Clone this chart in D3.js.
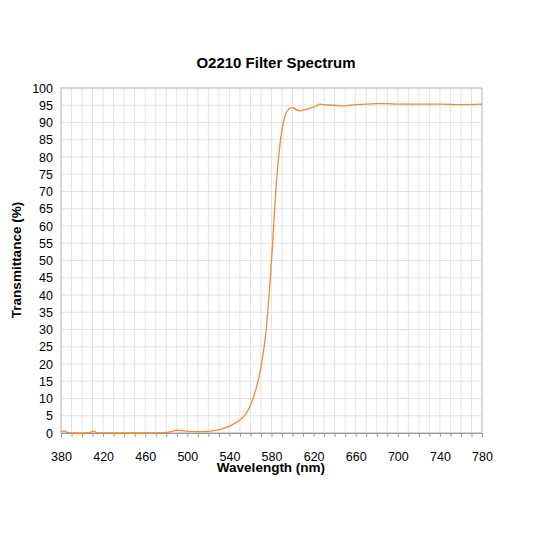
<!DOCTYPE html>
<html><head><meta charset="utf-8">
<script src="https://cdn.jsdelivr.net/npm/d3@7"></script>
<style>body{margin:0;background:#fff}text{font-family:Arial,"Liberation Sans",sans-serif}</style>
</head><body>
<svg id="c" width="533" height="533"></svg>
<script>
const wavelength = [380,383,386,390,400,408,411,414,420,440,460,478,485,490,495,500,510,520,525,530,535,540,545,550,555,560,565,570,575,580,585,590,593,597,600,603,607,612,617,622,626,632,640,650,660,670,680,690,700,720,740,760,780]
const transmittance = [0.4,0.6,0.2,0,0,0.2,0.6,0.1,0,0,0,0.1,0.4,0.8,0.7,0.5,0.4,0.5,0.7,1,1.4,2,2.8,3.8,5.3,8,12.5,19,30,50,74,88,92,94,94.3,93.8,93.4,93.7,94.2,94.7,95.3,95.1,95,94.8,95.2,95.3,95.5,95.5,95.3,95.3,95.3,95.2,95.3]
const xTicks = d3.range(380, 781, 40)
const yTicks = d3.range(0, 101, 5)

const svg = d3.select("#c")
const m = {l:61, r:482, t:88, b:433}
const x = d3.scaleLinear().domain([380,780]).range([m.l,m.r])
const y = d3.scaleLinear().domain([0,100]).range([m.b,m.t])

svg.append("g").selectAll("line").data(d3.range(380,781,10)).join("line")
  .attr("x1",d=>x(d)).attr("x2",d=>x(d)).attr("y1",m.t).attr("y2",m.b)
  .attr("stroke","#e3e3e3")
svg.append("g").selectAll("line").data(yTicks).join("line")
  .attr("x1",m.l).attr("x2",m.r).attr("y1",d=>y(d)).attr("y2",d=>y(d))
  .attr("stroke","#e3e3e3")
svg.append("rect").attr("x",m.l).attr("y",m.t).attr("width",m.r-m.l).attr("height",m.b-m.t)
  .attr("fill","none").attr("stroke","#bbb")

const xa = svg.append("g").attr("transform",`translate(0,${m.b})`)
  .call(d3.axisBottom(x).tickValues(d3.range(380,781,10)).tickSize(4).tickFormat(d=>(d-380)%40===0?d:""))
xa.select(".domain").attr("stroke","#999")
xa.selectAll("line").attr("stroke","#999")
xa.selectAll("text").attr("font-size",12.5).attr("fill","#000").attr("dy","1.7em")
const ya = svg.append("g").attr("transform",`translate(${m.l},0)`)
  .call(d3.axisLeft(y).tickValues(yTicks).tickSize(0).tickPadding(8))
ya.select(".domain").remove()
ya.selectAll("text").attr("font-size",12.5).attr("fill","#000")

svg.append("path").datum(wavelength.map((w,i)=>[w,transmittance[i]]))
  .attr("fill","none").attr("stroke","#f28a30").attr("stroke-width",1.3)
  .attr("d",d3.line().x(d=>x(d[0])).y(d=>y(d[1])).curve(d3.curveMonotoneX))

svg.append("text").attr("x",276).attr("y",68).attr("text-anchor","middle")
  .attr("font-size",15).attr("font-weight","bold").text("O2210 Filter Spectrum")
svg.append("text").attr("x",271).attr("y",472).attr("text-anchor","middle")
  .attr("font-size",13.5).attr("font-weight","bold").text("Wavelength (nm)")
svg.append("text").attr("transform","translate(21,260) rotate(-90)").attr("text-anchor","middle")
  .attr("font-size",13.5).attr("font-weight","bold").text("Transmittance (%)")
</script>
</body></html>
